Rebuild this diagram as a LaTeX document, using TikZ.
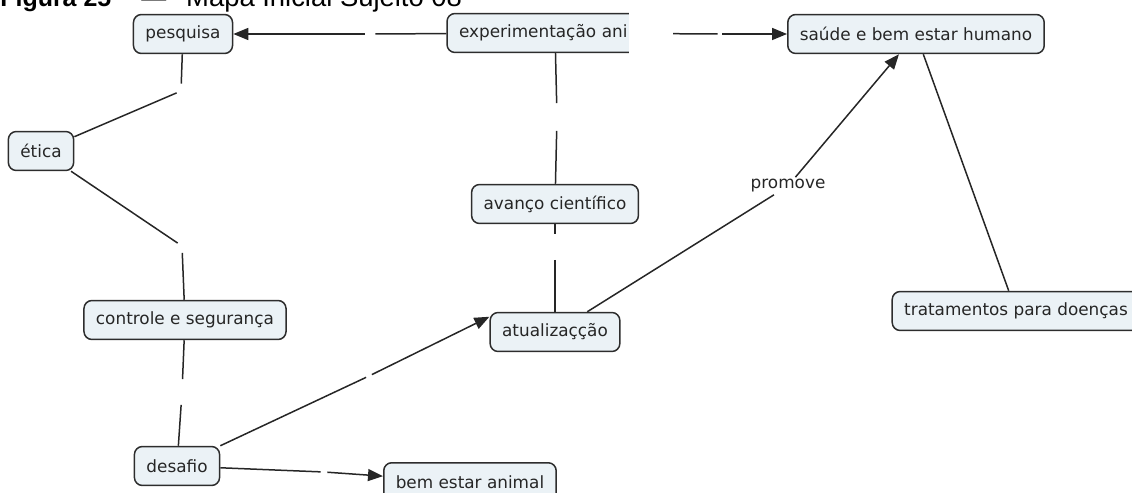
\documentclass[tikz,border=0pt]{standalone}
\usepackage{fontspec}
\setmainfont{DejaVu Sans}
\newfontfamily\titlefont{Liberation Sans}
\usetikzlibrary{arrows.meta}

\definecolor{conceptfill}{RGB}{235,242,246}
\definecolor{conceptline}{RGB}{45,45,45}

\tikzset{
	concept/.style={draw=conceptline, fill=conceptfill, line width=0.03cm, rounded corners=0.16cm,
		minimum height=0.78cm, inner xsep=0.24cm, font=\fontsize{9.6}{11}\selectfont, text=black!85},
	linkpt/.style={inner sep=0pt, minimum width=0.16cm, minimum height=0.5cm},
	conn/.style={line width=0.03cm, draw=black!85},
	arr/.style={conn, -{Triangle[length=0.3cm, width=0.24cm]}},
}

\begin{document}
\begin{tikzpicture}[x=0.02cm, y=-0.02cm] % 1
		\useasboundingbox (0,0) rectangle (1132,493);
		\begin{scope}
			\clip (0,0) rectangle (1132,493);
			\node[anchor=base west, inner sep=0pt, font=\titlefont\fontsize{14.2}{16}\selectfont] (titulo) at (0,7)
				{\textbf{Figura 25}\hspace{0.6cm}—\hspace{0.4cm}{\fontsize{15.6}{17}\selectfont Mapa Inicial Sujeito 08}};

			\node[concept] (pesquisa) at (183,34) {pesquisa};
			\node[concept, text width=3.84cm, align=left] (experim) at (555,33) {experimentação ani};
			\node[concept] (saude) at (916,34) {saúde e bem estar humano};
			\node[concept] (etica) at (41,151) {ética};
			\node[concept] (avanco) at (555,204) {avanço científico};
			\node[concept] (controle) at (185,320) {controle e segurança};
			\node[concept] (atual) at (555,332) {atualizaçção};
			\node[concept] (tratam) at (1016,311) {tratamentos para doenças};
			\node[concept] (desafio) at (177,466) {desafio};
			\node[concept, anchor=north west] (bemestar) at (383,462) {bem estar animal};

			% pontos de ligacao
			\node[linkpt, minimum width=0.2cm, minimum height=0.2cm] (lep) at (370,34) {};
			\node[linkpt, minimum width=0.08cm, minimum height=0.2cm] (les) at (720,34) {};
			\node[linkpt, minimum height=0.28cm] (lpe) at (181,91) {};
			\node[linkpt, minimum height=0.26cm] (lec) at (182,246) {};
			\node[linkpt] (lcd) at (182,392) {};
			\node[linkpt, minimum height=0.54cm] (lea) at (557,117) {};
			\node[linkpt] (laa) at (555,247) {};
			\node[linkpt, minimum width=0.1cm, minimum height=0.1cm] (lda) at (369,376) {};
			\node[linkpt, minimum width=0.12cm, minimum height=0.1cm] (ldb) at (324,472) {};
			\node[inner sep=0.04cm, font=\fontsize{9.6}{11}\selectfont, text=black!85] (promove) at (788,186) {promove};

			\draw[conn] (experim) -- (lep);
			\draw[arr] (lep) -- (pesquisa);
			\draw[conn] (experim) -- (les);
			\draw[arr] (les) -- (saude);
			\draw[conn] (pesquisa) -- (lpe);
			\draw[conn] (lpe) -- (etica);
			\draw[conn] (etica) -- (lec);
			\draw[conn] (lec) -- (controle);
			\draw[conn] (controle) -- (lcd);
			\draw[conn] (lcd) -- (desafio);
			\draw[conn] (experim) -- (lea);
			\draw[conn] (lea) -- (avanco);
			\draw[conn] (avanco) -- (laa);
			\draw[conn] (laa) -- (atual);
			\draw[conn] (desafio.north east) -- (lda);
			\draw[arr] (lda) -- ([yshift=-0.1cm]atual.north west);
			\draw[conn] (desafio) -- (ldb);
			\draw[arr] (ldb) -- (bemestar);
			\draw[conn] (atual) -- (promove);
			\draw[arr] (promove) -- (saude);
			\draw[conn] (saude) -- (tratam);

			% recorte da figura original
			\fill[white] (629,0) rectangle (673,60);
		\end{scope}
\end{tikzpicture}
\end{document}
